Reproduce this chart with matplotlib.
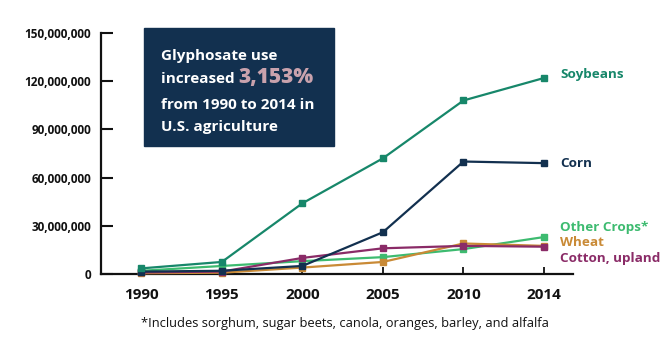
import matplotlib.pyplot as plt
from matplotlib.ticker import FuncFormatter

# ===== Data (pounds of glyphosate) =====
years = ["1990", "1995", "2000", "2005", "2010", "2014"]
soybeans = [3.5e6, 7.5e6, 44e6, 72e6, 108e6, 122e6]
corn = [1.5e6, 2.0e6, 5.0e6, 26e6, 70e6, 69e6]
other_crops = [2.0e6, 5.0e6, 8.0e6, 10.5e6, 15.5e6, 23e6]
wheat = [0.5e6, 0.8e6, 4.0e6, 7.5e6, 19e6, 17.5e6]
cotton = [1.0e6, 1.5e6, 10e6, 16e6, 17.5e6, 17e6]
y_ticks = [0, 30e6, 60e6, 90e6, 120e6, 150e6]
# ===========================================================

NAVY = "#12304f"
TEAL = "#17876a"
LIGHT_GREEN = "#3dbb70"
ORANGE = "#c98a36"
PURPLE = "#8a2b67"
FONT = ["Open Sans", "DejaVu Sans"]

plt.rcParams["font.family"] = FONT

fig = plt.figure(figsize=(6.72, 3.5), dpi=100)
ax = fig.add_axes([101 / 672, 1 - 274 / 350, (573 - 101) / 672, (274 - 33) / 350])

x = list(range(len(years)))
series = [
    (other_crops, LIGHT_GREEN),
    (wheat, ORANGE),
    (cotton, PURPLE),
    (corn, NAVY),
    (soybeans, TEAL),
]
for vals, col in series:
    ax.plot(x, vals, color=col, lw=1.6, marker="s", ms=5, clip_on=False, zorder=3)

ax.set_xlim(-0.5, 5.36)
ax.set_ylim(0, 150e6)
ax.set_xticks(x)
ax.set_xticklabels(years, fontsize=11, fontweight="bold")
ax.set_yticks(y_ticks)
ax.yaxis.set_major_formatter(FuncFormatter(lambda v, _: f"{int(v):,}"))
for lab in ax.get_yticklabels():
    lab.set_fontweight("bold")
    lab.set_fontsize(8.5)

ax.tick_params(axis="y", direction="in", length=8.5, width=1.5, pad=7, colors="#111111")
ax.tick_params(axis="x", direction="in", length=5, width=1.3, pad=10, colors="#111111")
for side in ["top", "right"]:
    ax.spines[side].set_visible(False)
for side in ["left", "bottom"]:
    ax.spines[side].set_linewidth(1.6)
    ax.spines[side].set_color("#111111")

# series labels at right
label_y = {
    "Soybeans": (124e6, TEAL),
    "Corn": (69e6, NAVY),
    "Other Crops*": (29e6, LIGHT_GREEN),
    "Wheat": (19.5e6, ORANGE),
    "Cotton, upland": (9.5e6, PURPLE),
}
for name, (yv, col) in label_y.items():
    ax.text(5.2, yv, name, color=col, fontsize=9.7, fontweight="bold",
            va="center", ha="left", clip_on=False)

# callout box
fig.patches.append(plt.Rectangle((144 / 672, 1 - 146 / 350), 190 / 672, 118 / 350,
                                 transform=fig.transFigure, color=NAVY, zorder=5))
tx = 161 / 672
fig.text(tx, 1 - 56 / 350, "Glyphosate use", color="white", fontsize=11,
         fontweight="bold", va="center", zorder=6)
t = fig.text(tx, 1 - 79 / 350, "increased ", color="white", fontsize=11,
             fontweight="bold", va="center", zorder=6)
fig.canvas.draw()
bb = t.get_window_extent()
fig.text(bb.x1 / 672, 1 - 78 / 350, "3,153%", color="#c9a2ad", fontsize=15,
         fontweight="heavy", va="center", zorder=6)
fig.text(tx, 1 - 105 / 350, "from 1990 to 2014 in", color="white", fontsize=11,
         fontweight="bold", va="center", zorder=6)
fig.text(tx, 1 - 127 / 350, "U.S. agriculture", color="white", fontsize=11,
         fontweight="bold", va="center", zorder=6)

fig.text(345 / 672, 1 - 323 / 350,
         "*Includes sorghum, sugar beets, canola, oranges, barley, and alfalfa",
         ha="center", va="center", fontsize=9.3, color="#111111")

fig.savefig("out.png", dpi=100)
